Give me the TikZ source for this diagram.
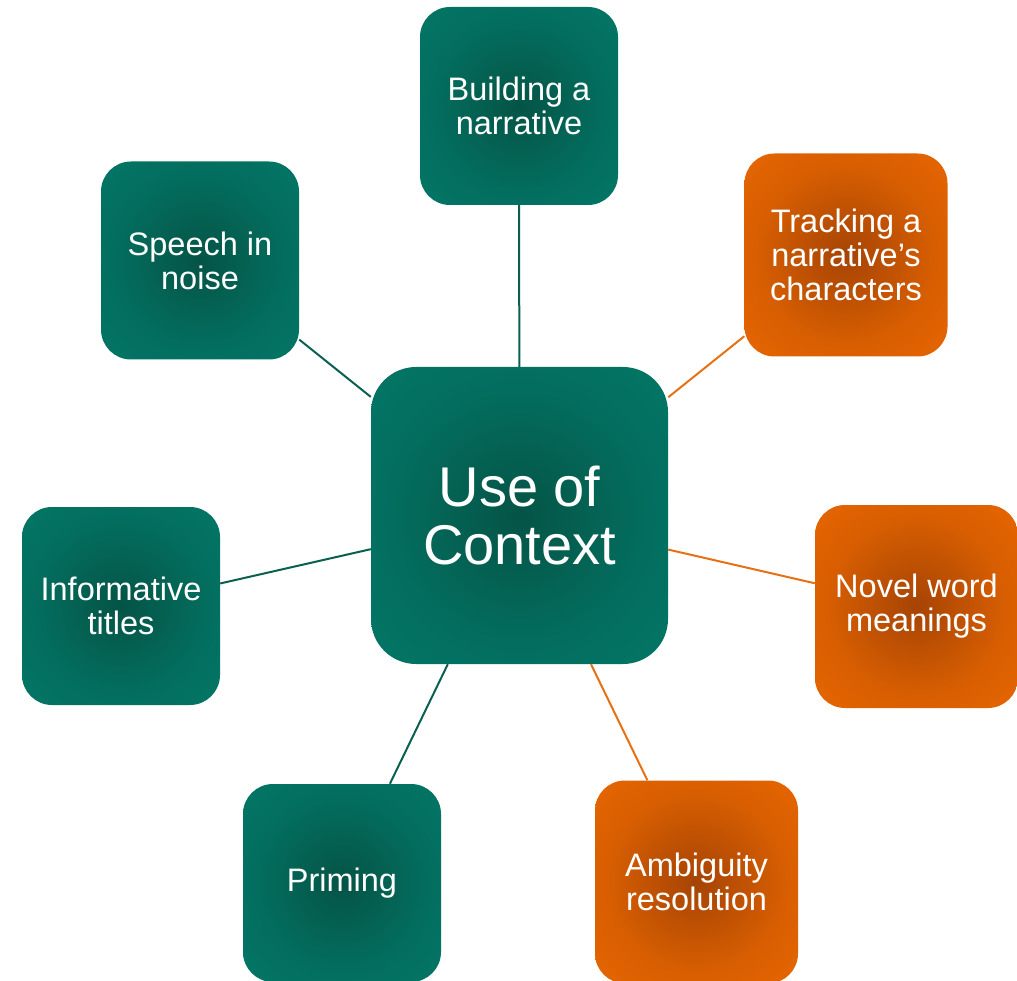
\documentclass[tikz,border=0pt]{standalone}
\usepackage{fontspec}
\setmainfont{Liberation Sans}

% palette
\definecolor{tealEdge}{RGB}{3,124,108}
\definecolor{tealCore}{RGB}{4,84,70}
\definecolor{orangeEdge}{RGB}{242,108,0}
\definecolor{orangeCore}{RGB}{166,68,4}
\definecolor{tealLine}{RGB}{10,95,80}
\definecolor{orangeLine}{RGB}{232,112,20}

% dark core fading out to the box edge
\pgfdeclareradialshading{tealglow}{\pgfpoint{0bp}{0bp}}{%
  color(0bp)=(tealCore); color(22bp)=(tealCore!35!tealEdge);
  color(46bp)=(tealEdge); color(100bp)=(tealEdge)}
\pgfdeclareradialshading{orangeglow}{\pgfpoint{0bp}{0bp}}{%
  color(0bp)=(orangeCore); color(22bp)=(orangeCore!35!orangeEdge);
  color(46bp)=(orangeEdge); color(100bp)=(orangeEdge)}

\tikzset{
  box/.style={rectangle, rounded corners=30pt, minimum width=198pt,
    minimum height=198pt, text=white, align=center, inner sep=0pt,
    font=\fontsize{32.5}{34}\selectfont},
  tealbox/.style={box, shading=tealglow},
  orangebox/.style={box, shading=orangeglow, minimum width=203pt,
    minimum height=203pt},
  hub/.style={tealbox, minimum width=297pt, minimum height=297pt,
    rounded corners=45pt, font=\fontsize{56}{58}\selectfont},
  tealedge/.style={draw=tealLine, line width=2pt},
  orangeedge/.style={draw=orangeLine, line width=2pt},
}

\begin{document}
\begin{tikzpicture}[x=1pt,y=-1pt]
  \useasboundingbox (0,0) rectangle (1017,981);

  % hub
  \node[hub] (ctx) at (519.5,515.5) {Use of\\Context};

  % teal satellites
  \node[tealbox] (build)  at (519,106)   {Building a\\narrative};
  \node[tealbox] (speech) at (200,260.5) {Speech in\\noise};
  \node[tealbox] (info)   at (121,606)   {Informative\\titles};
  \node[tealbox] (prime)  at (342,883)   {Priming};

  % orange satellites
  \node[orangebox] (track) at (846,255)     {Tracking a\\narrative’s\\characters};
  \node[orangebox] (novel) at (916.5,606.5) {Novel word\\meanings};
  \node[orangebox] (ambig) at (696.5,882)   {Ambiguity\\resolution};

  % spokes
  \draw[tealedge] (build) -- (ctx);
  \draw[tealedge] (speech) -- (ctx);
  \draw[tealedge] (info) -- (ctx);
  \draw[tealedge] (prime) -- (ctx);
  \draw[orangeedge] (track) -- (ctx);
  \draw[orangeedge] (novel) -- (ctx);
  \draw[orangeedge] (ambig) -- (ctx);
\end{tikzpicture}
\end{document}
